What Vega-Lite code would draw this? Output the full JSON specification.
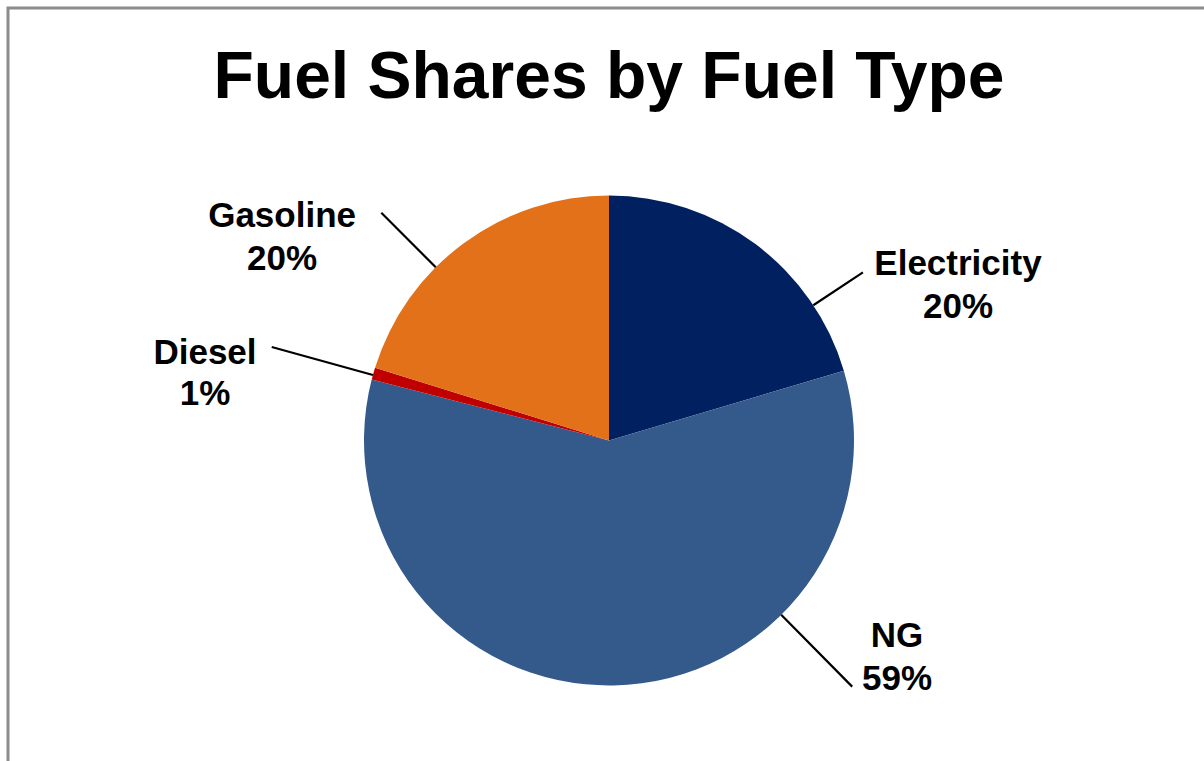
{
  "$schema": "https://vega.github.io/schema/vega-lite/v6.json",
  "autosize": {"type": "none"},
  "padding": {"left": 8, "top": 8, "right": 0, "bottom": 0},
  "width": 1202,
  "height": 865,
  "background": "white",
  "view": {"stroke": "#8c8c8c", "strokeWidth": 3},
  "title": {
    "text": "Fuel Shares by Fuel Type",
    "font": "Liberation Sans",
    "fontSize": 66,
    "fontWeight": "bold",
    "color": "#000000",
    "anchor": "middle",
    "offset": -104
  },
  "data": {
    "values": [
      {"fuel": "Electricity", "share": 0.204},
      {"fuel": "NG", "share": 0.586},
      {"fuel": "Diesel", "share": 0.008},
      {"fuel": "Gasoline", "share": 0.202}
    ]
  },
  "transform": [
    {"stack": "share", "groupby": [], "as": ["s0", "s1"]}
  ],
  "layer": [
    {
      "mark": {"type": "arc", "radius": 245, "strokeWidth": 0},
      "encoding": {
        "theta": {"field": "s0", "type": "quantitative", "stack": null, "scale": {"domain": [0, 1]}},
        "theta2": {"field": "s1"},
        "color": {
          "field": "fuel",
          "type": "nominal",
          "scale": {
            "domain": ["Electricity", "NG", "Diesel", "Gasoline"],
            "range": ["#002060", "#345A8C", "#C00000", "#E2711A"]
          },
          "legend": null
        }
      }
    },
    {
      "transform": [{"filter": "datum.fuel === 'Electricity'"}],
      "layer": [
        {
          "mark": {"type": "arc", "radius": 304.5, "radius2": 245, "thetaOffset": 0.9861, "theta2Offset": 0.9861, "stroke": "#000000", "fill": "#000000", "strokeWidth": 2.2},
          "encoding": {
            "theta": {"field": "s0", "type": "quantitative", "stack": null, "scale": {"domain": [0, 1]}},
            "theta2": {"field": "s0"}
          }
        },
        {
          "mark": {"type": "text", "radius": 377.7, "thetaOffset": 1.1783, "dy": -21.5},
          "encoding": {
            "theta": {"field": "s0", "type": "quantitative", "stack": null, "scale": {"domain": [0, 1]}},
            "text": {"field": "fuel"}
          }
        },
        {
          "mark": {"type": "text", "radius": 377.7, "thetaOffset": 1.1783, "dy": 21.5},
          "encoding": {
            "theta": {"field": "s0", "type": "quantitative", "stack": null, "scale": {"domain": [0, 1]}},
            "text": {"field": "share", "format": ".0%"}
          }
        }
      ]
    },
    {
      "transform": [{"filter": "datum.fuel === 'NG'"}],
      "layer": [
        {
          "mark": {"type": "arc", "radius": 346, "radius2": 245, "thetaOffset": 1.0805, "theta2Offset": 1.0805, "stroke": "#000000", "fill": "#000000", "strokeWidth": 2.2},
          "encoding": {
            "theta": {"field": "s0", "type": "quantitative", "stack": null, "scale": {"domain": [0, 1]}},
            "theta2": {"field": "s0"}
          }
        },
        {
          "mark": {"type": "text", "radius": 367.6, "thetaOffset": 0.9597, "dy": -21.5},
          "encoding": {
            "theta": {"field": "s0", "type": "quantitative", "stack": null, "scale": {"domain": [0, 1]}},
            "text": {"field": "fuel"}
          }
        },
        {
          "mark": {"type": "text", "radius": 367.6, "thetaOffset": 0.9597, "dy": 21.5},
          "encoding": {
            "theta": {"field": "s0", "type": "quantitative", "stack": null, "scale": {"domain": [0, 1]}},
            "text": {"field": "share", "format": ".0%"}
          }
        }
      ]
    },
    {
      "transform": [{"filter": "datum.fuel === 'Diesel'"}],
      "layer": [
        {
          "mark": {"type": "arc", "radius": 350, "radius2": 245, "thetaOffset": 0.0192, "theta2Offset": 0.0192, "stroke": "#000000", "fill": "#000000", "strokeWidth": 2.2},
          "encoding": {
            "theta": {"field": "s0", "type": "quantitative", "stack": null, "scale": {"domain": [0, 1]}},
            "theta2": {"field": "s0"}
          }
        },
        {
          "mark": {"type": "text", "radius": 407.8, "thetaOffset": -0.1148, "dy": -20.5},
          "encoding": {
            "theta": {"field": "s0", "type": "quantitative", "stack": null, "scale": {"domain": [0, 1]}},
            "text": {"field": "fuel"}
          }
        },
        {
          "mark": {"type": "text", "radius": 407.8, "thetaOffset": -0.1148, "dy": 20.5},
          "encoding": {
            "theta": {"field": "s0", "type": "quantitative", "stack": null, "scale": {"domain": [0, 1]}},
            "text": {"field": "share", "format": ".0%"}
          }
        }
      ]
    },
    {
      "transform": [{"filter": "datum.fuel === 'Gasoline'"}],
      "layer": [
        {
          "mark": {"type": "arc", "radius": 322, "radius2": 245, "thetaOffset": 0.4838, "theta2Offset": 0.4838, "stroke": "#000000", "fill": "#000000", "strokeWidth": 2.2},
          "encoding": {
            "theta": {"field": "s0", "type": "quantitative", "stack": null, "scale": {"domain": [0, 1]}},
            "theta2": {"field": "s0"}
          }
        },
        {
          "mark": {"type": "text", "radius": 378.9, "thetaOffset": 0.2283, "dy": -21.5},
          "encoding": {
            "theta": {"field": "s0", "type": "quantitative", "stack": null, "scale": {"domain": [0, 1]}},
            "text": {"field": "fuel"}
          }
        },
        {
          "mark": {"type": "text", "radius": 378.9, "thetaOffset": 0.2283, "dy": 21.5},
          "encoding": {
            "theta": {"field": "s0", "type": "quantitative", "stack": null, "scale": {"domain": [0, 1]}},
            "text": {"field": "share", "format": ".0%"}
          }
        }
      ]
    }
  ],
  "config": {
    "font": "Liberation Sans",
    "text": {
      "font": "Liberation Sans",
      "fontSize": 35,
      "fontWeight": "bold",
      "color": "#000000",
      "align": "center",
      "baseline": "alphabetic"
    }
  }
}
